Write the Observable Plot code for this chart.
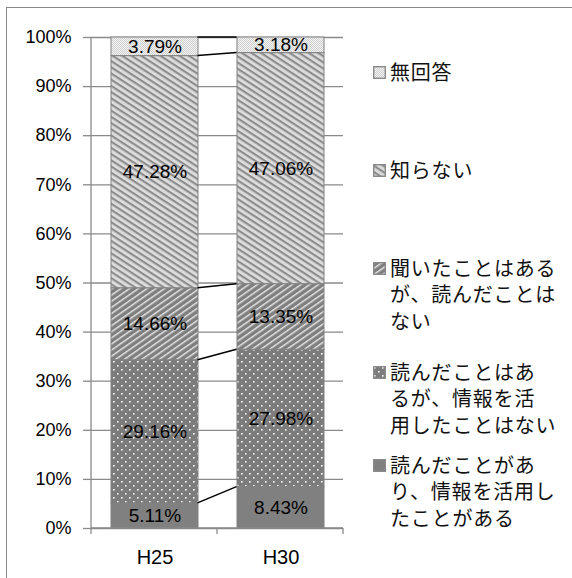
<!DOCTYPE html>
<html><head><meta charset="utf-8">
<script src="https://cdn.jsdelivr.net/npm/d3@7"></script>
<script src="https://cdn.jsdelivr.net/npm/@observablehq/plot@0.6"></script>
<style>
html,body{margin:0;padding:0;background:#fff;}
#wrap{position:relative;width:572px;height:578px;overflow:hidden;background:#fff;}
#frame{position:absolute;left:6px;top:7px;width:620px;height:620px;border-left:1.4px solid #8a8a8a;border-top:1.4px solid #8a8a8a;box-sizing:border-box;}
#chart{position:absolute;left:0;top:0;}
#defs{position:absolute;width:0;height:0;}
.leg{position:absolute;left:373px;font-family:"Noto Sans CJK JP",sans-serif;font-size:20px;letter-spacing:0.8px;color:#111;white-space:nowrap;}
.leg svg{position:absolute;left:0;top:7px;}
.leg .ln{position:absolute;left:17px;height:26.5px;line-height:26.5px;}
</style>
</head><body>
<svg id="defs" width="0" height="0">
  <defs>
    <pattern id="pSolid" patternUnits="userSpaceOnUse" width="4" height="4">
      <rect width="4" height="4" fill="#808080"/>
    </pattern>
    <pattern id="pDots" patternUnits="userSpaceOnUse" width="8" height="8">
      <rect width="8" height="8" fill="#7c7c7c"/>
      <rect x="1" y="1" width="1.6" height="1.6" fill="#ffffff"/>
      <rect x="5" y="5" width="1.6" height="1.6" fill="#ffffff"/>
    </pattern>
    <pattern id="pUp" patternUnits="userSpaceOnUse" width="6" height="5" patternTransform="rotate(-35)">
      <rect width="6" height="5" fill="#7f7f7f"/>
      <rect y="0" width="6" height="1.4" fill="#e8e8e8"/>
    </pattern>
    <pattern id="pDown" patternUnits="userSpaceOnUse" width="6" height="5.2" patternTransform="rotate(33)">
      <rect width="6" height="5.2" fill="#dcdcdc"/>
      <rect y="0" width="6" height="2.1" fill="#8c8c8c"/>
    </pattern>
    <pattern id="pCheck" patternUnits="userSpaceOnUse" width="2" height="2">
      <rect width="2" height="2" fill="#f4f4f4"/>
      <rect x="0" y="0" width="1" height="1" fill="#cfcfcf"/>
      <rect x="1" y="1" width="1" height="1" fill="#cfcfcf"/>
    </pattern>
  </defs>
</svg>
<div id="wrap">
  <div id="frame"></div>
  <div id="chart"></div>
</div>
<script>
// ---- data ----
const years = ["H25", "H30"];
const series = [
  "読んだことがあり、情報を活用したことがある",
  "読んだことはあるが、情報を活用したことはない",
  "聞いたことはあるが、読んだことはない",
  "知らない",
  "無回答"
];
const valuesH25 = [5.11, 29.16, 14.66, 47.28, 3.79];
const valuesH30 = [8.43, 27.98, 13.35, 47.06, 3.18];
const yTicks = [0, 10, 20, 30, 40, 50, 60, 70, 80, 90, 100];
const legendSeries = ["無回答", "知らない", "聞いたことはあるが、読んだことはない",
  "読んだことはあるが、情報を活用したことはない", "読んだことがあり、情報を活用したことがある"];
const legendLines = [
  ["無回答"],
  ["知らない"],
  ["聞いたことはある", "が、読んだことは", "ない"],
  ["読んだことはあ", "るが、情報を活", "用したことはない"],
  ["読んだことがあ", "り、情報を活用し", "たことがある"]
];

// ---- styles ----
const patternUrls = ["url(#pSolid)", "url(#pDots)", "url(#pUp)", "url(#pDown)", "url(#pCheck)"];
const valuesByYear = {H25: valuesH25, H30: valuesH30};
const data = [];
years.forEach(y => series.forEach((s, i) => data.push({year: y, series: s, value: valuesByYear[y][i]})));

const plot = Plot.plot({
  width: 572,
  height: 578,
  marginLeft: 91,
  marginRight: 229,
  marginTop: 37,
  marginBottom: 50,
  style: {fontFamily: "'Liberation Sans', Arial, sans-serif", fontSize: "18px", color: "#000", background: "transparent", overflow: "visible"},
  x: {domain: years, paddingInner: 0.31, paddingOuter: 0.155, label: null, tickSize: 0, tickPadding: 21},
  y: {domain: [0, 100], ticks: yTicks, tickSize: 8, tickPadding: 12, tickFormat: d => d + "%", label: null},
  color: {domain: series, range: patternUrls},
  marks: [
    Plot.ruleY(yTicks, {stroke: "#8a8a8a", strokeWidth: 1.3}),
    Plot.barY(data, {x: "year", y: "value", fill: "series", order: null, stroke: "#808080", strokeWidth: 1}),
    Plot.text(data, Plot.stackY({x: "year", y: "value", z: "series", order: null,
      text: d => d.value.toFixed(2) + "%", fill: "#000", fontSize: 19}))
  ]
});
document.getElementById("chart").appendChild(plot);

const svg = d3.select(plot);
svg.selectAll("[aria-label^='y-axis'] line, [aria-label^='y-axis'] path").attr("stroke", "#8a8a8a").attr("stroke-width", 1.3);
svg.selectAll("[aria-label^='y-axis'] text").style("font-size", "18px");
svg.selectAll("[aria-label^='x-axis'] text").style("font-size", "20px");

// scales from the plot
const xd = plot.scale("x"), yd = plot.scale("y");
const xb = d3.scaleBand().domain(xd.domain).range(xd.range)
  .paddingInner(xd.paddingInner).paddingOuter(xd.paddingOuter).align(xd.align ?? 0.5);
const ys = d3.scaleLinear().domain(yd.domain).range(yd.range);
const [x0, x1] = xb.range();
const gap = (xb.step() - xb.bandwidth()) / 2;
const g = svg.append("g");
// axis lines
g.append("line").attr("x1", x0).attr("x2", x0).attr("y1", ys(0)).attr("y2", ys(100)).attr("stroke", "#8a8a8a").attr("stroke-width", 1.3);
g.append("line").attr("x1", x0).attr("x2", x1).attr("y1", ys(0)).attr("y2", ys(0)).attr("stroke", "#8a8a8a").attr("stroke-width", 1.3);
const bounds = years.map(y => xb(y) - gap).concat([xb(years[years.length - 1]) + xb.bandwidth() + gap]);
bounds.forEach(bx => g.append("line").attr("x1", bx).attr("x2", bx).attr("y1", ys(0)).attr("y2", ys(0) + 6).attr("stroke", "#8a8a8a").attr("stroke-width", 1.3));
// series connectors
const c25 = d3.cumsum(valuesH25), c30 = d3.cumsum(valuesH30);
c25.forEach((v, k) => {
  g.append("line")
    .attr("x1", xb("H25") + xb.bandwidth()).attr("y1", ys(v))
    .attr("x2", xb("H30")).attr("y2", ys(c30[k]))
    .attr("stroke", "#000").attr("stroke-width", 1.5);
});

// legend
const legendCenters = [72, 170, 268, 372, 465];
const lineStep = 26.5;
const wrap = document.getElementById("wrap");
legendLines.forEach((lines, i) => {
  const div = document.createElement("div");
  div.className = "leg";
  div.style.top = (legendCenters[i] - lineStep / 2) + "px";
  const url = patternUrls[series.indexOf(legendSeries[i])];
  div.innerHTML = `<svg width="13" height="13"><rect x="0.7" y="0.7" width="11.6" height="11.6" fill="${url}" stroke="#8a8a8a" stroke-width="1.4"/></svg>` +
    lines.map((l, j) => `<div class="ln" style="top:${j * lineStep}px">${l}</div>`).join("");
  wrap.appendChild(div);
});
</script>
</body></html>
